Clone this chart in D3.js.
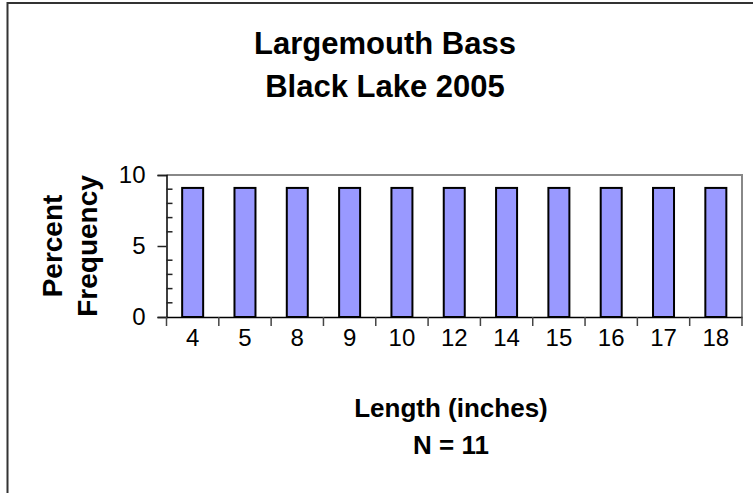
<!DOCTYPE html>
<html><head><meta charset="utf-8">
<script src="https://cdn.jsdelivr.net/npm/d3@7"></script>
<style>body{margin:0;background:#fff}svg{display:block}</style>
</head><body>
<script>
const categories = ["4","5","8","9","10","12","14","15","16","17","18"];
const percentValues = [9.09,9.09,9.09,9.09,9.09,9.09,9.09,9.09,9.09,9.09,9.09];
const yTickValues = [0,5,10];
const yMinorTicks = [1,2,3,4,6,7,8,9];
const titleLines = ["Largemouth Bass","Black Lake 2005"];
const yTitleLines = ["Percent","Frequency"];
const xTitleLines = ["Length (inches)","N = 11"];

const W = 753, H = 493;
const svg = d3.select("body").append("svg").attr("width", W).attr("height", H);
const font = "'Liberation Sans', Arial, sans-serif";

// outer chart border
svg.append("rect").attr("x", 7.5).attr("y", 3).attr("width", 800).attr("height", 600)
  .attr("fill", "#fff").attr("stroke", "#333").attr("stroke-width", 2);

const plot = {left: 166.5, right: 742, top: 175, bottom: 317};
const xb = d3.scaleBand().domain(categories).range([plot.left, plot.right]);
const y = d3.scaleLinear().domain([0, 10]).range([plot.bottom, plot.top]);

// plot area border (gray top/right)
svg.append("path")
  .attr("d", `M${plot.left},${plot.top}H${plot.right}V${plot.bottom}`)
  .attr("fill", "none").attr("stroke", "#888").attr("stroke-width", 2);

// bars
svg.append("g").selectAll("rect").data(categories).join("rect")
  .attr("x", d => xb(d) + (xb.bandwidth() - 21) / 2)
  .attr("width", 21)
  .attr("y", (d, i) => y(percentValues[i]))
  .attr("height", (d, i) => y(0) - y(percentValues[i]))
  .attr("fill", "#9999FF").attr("stroke", "#000").attr("stroke-width", 2);

// y axis
const yAxis = svg.append("g").attr("transform", `translate(${plot.left},0)`)
  .call(d3.axisLeft(y).tickValues(yTickValues).tickSize(9).tickPadding(12).tickFormat(d3.format("d")));
yAxis.select(".domain").attr("stroke", "#000").attr("stroke-width", 1.5);
yAxis.selectAll(".tick line").attr("stroke", "#222").attr("stroke-width", 1.5);
yAxis.selectAll("text").attr("font-family", font).attr("font-size", 24).attr("fill", "#000");
// minor ticks inside
svg.append("g").selectAll("line").data(yMinorTicks).join("line")
  .attr("x1", plot.left).attr("x2", plot.left + 6)
  .attr("y1", d => y(d)).attr("y2", d => y(d))
  .attr("stroke", "#222").attr("stroke-width", 1.5);

// x axis
const xAxis = svg.append("g").attr("transform", `translate(0,${plot.bottom})`)
  .call(d3.axisBottom(xb).tickSize(0).tickPadding(12));
xAxis.select(".domain").attr("stroke", "#000").attr("stroke-width", 1.5);
xAxis.selectAll("text").attr("font-family", font).attr("font-size", 24).attr("fill", "#000");
// boundary ticks
const bounds = categories.map(d => xb(d)).concat([xb(categories[categories.length - 1]) + xb.bandwidth()]);
svg.append("g").selectAll("line").data(bounds).join("line")
  .attr("x1", d => d).attr("x2", d => d)
  .attr("y1", plot.bottom).attr("y2", plot.bottom + 9)
  .attr("stroke", "#444").attr("stroke-width", 1.5);

// title
svg.append("g").selectAll("text").data(titleLines).join("text")
  .attr("x", 385).attr("y", (d, i) => 54 + i * 43)
  .attr("text-anchor", "middle").attr("font-family", font)
  .attr("font-weight", "bold").attr("font-size", 31).text(d => d);

// y title
svg.append("g").selectAll("text").data(yTitleLines).join("text")
  .attr("transform", (d, i) => `translate(${62 + i * 35},${(plot.top + plot.bottom) / 2}) rotate(-90)`)
  .attr("text-anchor", "middle").attr("font-family", font)
  .attr("font-weight", "bold").attr("font-size", 28).text(d => d);

// x title
svg.append("g").selectAll("text").data(xTitleLines).join("text")
  .attr("x", 451).attr("y", (d, i) => 417 + i * 37)
  .attr("text-anchor", "middle").attr("font-family", font)
  .attr("font-weight", "bold").attr("font-size", 26).text(d => d);
</script>
</body></html>
